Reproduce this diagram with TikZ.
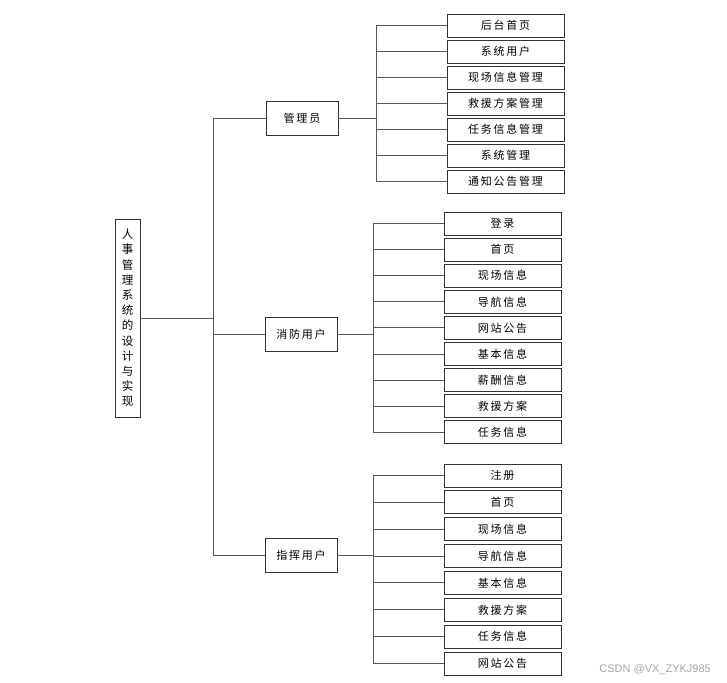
\documentclass[tikz,border=0pt]{standalone}
\usepackage{fontspec}
\newfontfamily\cjk[LetterSpace=16]{Noto Sans CJK SC}
\newfontfamily\cjkplain{Noto Sans CJK SC}
\newfontfamily\wm{Liberation Sans}
\begin{document}
\begin{tikzpicture}[x=1pt,y=-1pt,
  box/.style={draw=black!80,line width=0.8pt,fill=white,inner sep=0pt,font=\cjk\fontsize{11}{13}\selectfont},
  leaf/.style={box,minimum width=117pt,minimum height=23pt},
  mid/.style={box,minimum width=72pt,minimum height=34pt},
  conn/.style={draw=black!65,line width=1pt}]
\useasboundingbox (0,0) rectangle (727,682);
% root
\node[draw=black!80,line width=0.8pt,minimum width=25pt,minimum height=198pt,inner sep=0pt,
  align=center,font=\cjkplain\fontsize{11.5}{15.2}\selectfont] (root) at (127.5,318)
  {人\\事\\管\\理\\系\\统\\的\\设\\计\\与\\实\\现};
% level 2
\node[mid] (adm) at (302,118.5) {管理员};
\node[mid] (fire) at (301,334.5) {消防用户};
\node[mid] (cmd) at (301,555) {指挥用户};
% trunk
\coordinate (tx) at (213,0);
\draw[conn] (root.east) -- (root.east -| tx);
\draw[conn] (adm.west -| tx) -- (cmd.west -| tx);
\draw[conn] (adm.west -| tx) -- (adm.west);
\draw[conn] (fire.west -| tx) -- (fire.west);
\draw[conn] (cmd.west -| tx) -- (cmd.west);
% admin children
\coordinate (ab) at (376,0);
\foreach \t [count=\i from 0] in {后台首页,系统用户,现场信息管理,救援方案管理,任务信息管理,系统管理,通知公告管理}{
  \node[leaf] (a\i) at (505.5,{25.5+26*\i}) {\t};
  \draw[conn] (a\i.west) -- (a\i.west -| ab);
}
\draw[conn] (a0.west -| ab) -- (a6.west -| ab);
\draw[conn] (adm.east) -- (adm.east -| ab);
% fire children
\coordinate (fb) at (373,0);
\foreach \t [count=\i from 0] in {登录,首页,现场信息,导航信息,网站公告,基本信息,薪酬信息,救援方案,任务信息}{
  \node[leaf] (f\i) at (502.5,{223.5+26.1*\i}) {\t};
  \draw[conn] (f\i.west) -- (f\i.west -| fb);
}
\draw[conn] (f0.west -| fb) -- (f8.west -| fb);
\draw[conn] (fire.east) -- (fire.east -| fb);
% commander children
\foreach \t [count=\i from 0] in {注册,首页,现场信息,导航信息,基本信息,救援方案,任务信息,网站公告}{
  \node[leaf] (c\i) at (502.5,{475.5+26.86*\i}) {\t};
  \draw[conn] (c\i.west) -- (c\i.west -| fb);
}
\draw[conn] (c0.west -| fb) -- (c7.west -| fb);
\draw[conn] (cmd.east) -- (cmd.east -| fb);
% watermark
\node[anchor=east,font=\wm\fontsize{11}{12}\selectfont,text=black!35,inner sep=0pt] (wm) at (711,670) {CSDN @VX\_ZYKJ985};
\end{tikzpicture}
\end{document}
